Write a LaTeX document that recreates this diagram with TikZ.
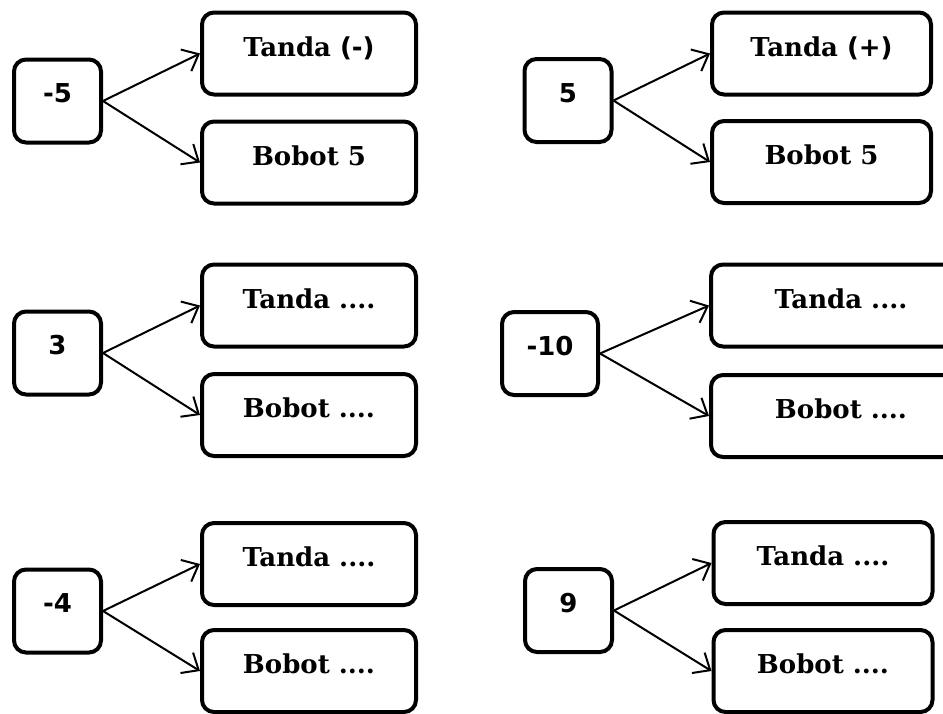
\documentclass[tikz,border=0pt]{standalone}
\usepackage{fontspec}
\setmainfont{DejaVu Serif}
\newfontfamily\numfont{DejaVu Sans}
\usetikzlibrary{arrows.meta}

\begin{document}
\begin{tikzpicture}[x=1pt,y=-1pt,line width=4pt,
  numbox/.style={draw,rounded corners=12pt,minimum width=87pt,minimum height=83pt,inner sep=0pt,
    font=\numfont\bfseries\fontsize{26}{26}\selectfont,text height=19pt,text depth=16pt},
  signbox/.style={draw,rounded corners=12pt,minimum width=214pt,minimum height=82pt,inner sep=0pt,
    font=\bfseries\fontsize{26}{26}\selectfont,text height=19pt,text depth=14pt},
  branch/.style={line width=2pt,-{Straight Barb[length=14pt,width=24pt,line width=2pt]}}]
        \useasboundingbox (0,0) rectangle (943,713);
        \node (n1) [numbox] at (57.5,101) {-5};
        \node (t1) [signbox] at (309,53.5) {Tanda {\numfont(-)}};
        \node (b1) [signbox] at (309,162.5) {Bobot 5};
        \node (n2) [numbox] at (568,100.5) {5};
        \node (t2) [signbox,minimum width=219pt] at (821.5,53.5) {Tanda {\numfont(+)}};
        \node (b2) [signbox,minimum width=219pt] at (821.5,162) {Bobot 5};
        \node (n3) [numbox] at (57.5,353) {3};
        \node (t3) [signbox] at (309,305.5) {Tanda ....};
        \node (b3) [signbox] at (309,415) {Bobot ....};
        \node (n4) [numbox,minimum width=96pt] at (550,353.5) {-10};
        \node (t4) [signbox,minimum width=260pt,anchor=west] at (709,305.5) {Tanda ....};
        \node (b4) [signbox,minimum width=260pt,anchor=west] at (709,416) {Bobot ....};
        \node (n5) [numbox] at (57.5,611) {-4};
        \node (t5) [signbox] at (309,564) {Tanda ....};
        \node (b5) [signbox] at (309,671) {Bobot ....};
        \node (n6) [numbox] at (568.5,610.5) {9};
        \node (t6) [signbox,minimum width=219pt] at (823,563) {Tanda ....};
        \node (b6) [signbox,minimum width=219pt] at (823,671) {Bobot ....};
        \foreach \i in {1,...,6} {
          \draw[branch] (n\i.east) -- (t\i.west);
          \draw[branch] (n\i.east) -- (b\i.west);
        }
\end{tikzpicture}
\end{document}
